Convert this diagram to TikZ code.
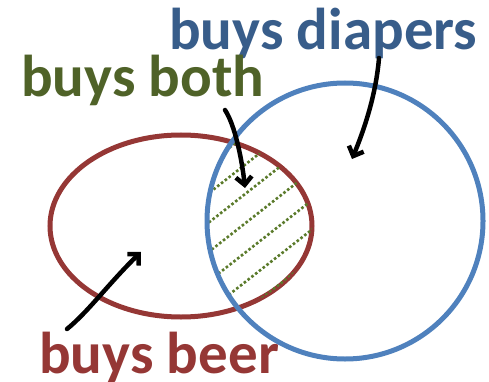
\documentclass[tikz,border=0pt]{standalone}
\usepackage{fontspec}
\setmainfont{Carlito}
\usepackage{tikz}
\usetikzlibrary{shapes.geometric, arrows.meta, positioning}
\definecolor{beerred}{HTML}{953735}
\definecolor{diaperblue}{HTML}{4F81BD}
\definecolor{diapertext}{HTML}{385D8A}
\definecolor{bothgreen}{HTML}{4F6228}
\definecolor{hatchgreen}{HTML}{5A7A2A}
\tikzset{
  setline/.style={draw, line width=5pt, inner sep=0pt, outer sep=0pt},
  beerset/.style={setline, ellipse, draw=beerred,
                  minimum width=262pt, minimum height=182pt},
  diaperset/.style={setline, circle, draw=diaperblue, minimum size=276pt},
  tag/.style={font=\fontsize{59}{60}\selectfont\bfseries, inner sep=0pt,
              anchor=base west},
  hatch/.style={hatchgreen, line width=2.6pt, dash pattern=on 2.6pt off 2.2pt},
  pointer/.style={-{Straight Barb[length=8pt, width=16pt]}, line width=4.5pt,
                  line cap=round, black},
}
\begin{document}
\begin{tikzpicture}[x=1pt, y=-1pt]
  \useasboundingbox (0,0) rectangle (489,382);
  \node[beerset] (beer) at (181,226) {};
  % hatched overlap
  \begin{scope}
    \clip (181,226) ellipse [x radius=131pt, y radius=91pt];
    \clip (345,221) circle [radius=138pt];
    \foreach \k in {-6,...,8}
      \draw[hatch] (212+14.2*\k-158, 344+18.2*\k) -- (212+14.2*\k+158, 96+18.2*\k);
  \end{scope}
  \node[diaperset] (diapers) at (345,221) {};

  \node[tag, text=diapertext] (diaperslbl) at (169,50) {buys diapers};
  \node[tag, text=bothgreen] (bothlbl) at (21,97) {buys both};
  \node[tag, text=beerred] (beerlbl) at (39,373) {buys beer};

  \coordinate (diapers-from) at (379,58);
  \coordinate (diapers-to) at (352,159);
  \coordinate (both-from) at (225,110);
  \coordinate (both-to) at (245,188);
  \coordinate (beer-from) at (67,329);
  \coordinate (beer-to) at (141,252);

  \draw[pointer] (diapers-from) .. controls (376,95) and (364,130) .. (diapers-to);
  \draw[pointer] (both-from) .. controls (235,125) and (242,160) .. (both-to);
  \draw[pointer] (beer-from) .. controls (88,312) and (110,282) .. (beer-to);
\end{tikzpicture}
\end{document}
